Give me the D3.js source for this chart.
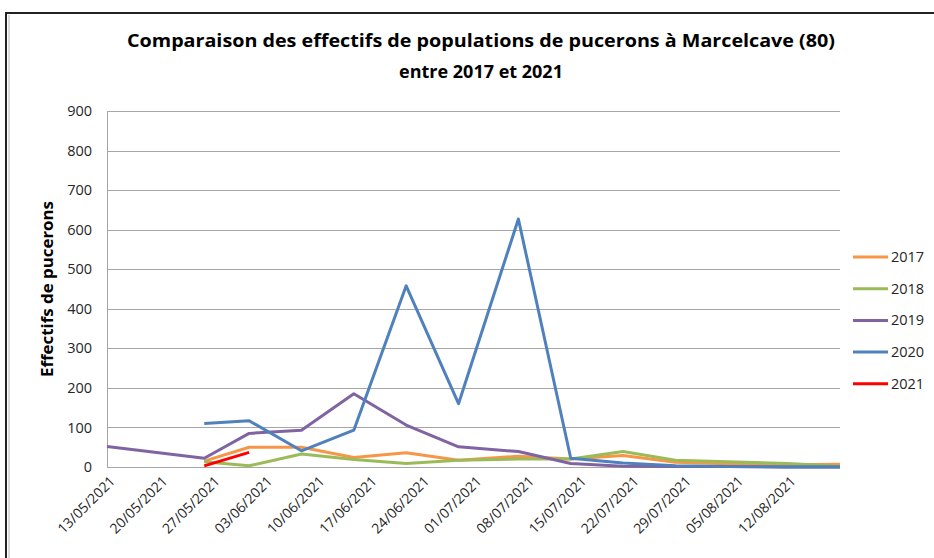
<!DOCTYPE html>
<html>
<head>
<meta charset="utf-8">
<script src="https://cdn.jsdelivr.net/npm/d3@7"></script>
<style>
  body { margin: 0; background: #fff; }
  text { font-family: "Open Sans", "Liberation Sans", sans-serif; }
</style>
</head>
<body>
<div id="chart"></div>
<script>
// observation dates (all years brought back to 2021)
var dates = ["13/05/2021","26/05/2021","01/06/2021","08/06/2021","15/06/2021","22/06/2021","29/06/2021",
             "07/07/2021","14/07/2021","21/07/2021","28/07/2021","04/08/2021","12/08/2021","19/08/2021"];
var tickLabels = ["13/05/2021","20/05/2021","27/05/2021","03/06/2021","10/06/2021","17/06/2021","24/06/2021",
                  "01/07/2021","08/07/2021","15/07/2021","22/07/2021","29/07/2021","05/08/2021","12/08/2021"];
var years = ["2017","2018","2019","2020","2021"];
var v2017 = [null, 15, 50, 50, 24, 36, 17, 27, 20, 29, 12, 8, 6, 7];
var v2018 = [null, 13, 3, 33, 19, 9, 17, 20, 20, 39, 17, 13, 9, 2];
var v2019 = [52, 22, 85, 93, 185, 106, 51, 39, 9, 2, 1, 1, 0, 0];
var v2020 = [null, 110, 117, 41, 93, 458, 160, 627, 22, 10, 3, 1, 0, 0];
var v2021 = [null, 3, 37, null, null, null, null, null, null, null, null, null, null, null];
var yTicks = [0, 100, 200, 300, 400, 500, 600, 700, 800, 900];

var colors = ["#F79646", "#9BBB59", "#8064A2", "#4F81BD", "#FF0000"];
var seriesValues = [v2017, v2018, v2019, v2020, v2021];

var width = 934, height = 558;
var parse = d3.utcParse("%d/%m/%Y");

var svg = d3.select("#chart").append("svg")
  .attr("width", width).attr("height", height);

// frame of the chart object
svg.append("line").attr("x1", 5).attr("x2", width).attr("y1", 13).attr("y2", 13)
  .attr("stroke", "#222").attr("stroke-width", 2);
svg.append("line").attr("x1", 6).attr("x2", 6).attr("y1", 13).attr("y2", height)
  .attr("stroke", "#222").attr("stroke-width", 2);
svg.append("line").attr("x1", 9).attr("x2", 9).attr("y1", 15).attr("y2", height)
  .attr("stroke", "#bbb").attr("stroke-width", 1);

var x = d3.scaleUtc()
  .domain([parse("13/05/2021"), parse("19/08/2021")])
  .range([107, 840]);
var y = d3.scaleLinear().domain([0, 900]).range([467, 111]);

// gridlines
svg.append("g").selectAll("line").data(yTicks).enter().append("line")
  .attr("x1", 107).attr("x2", 840)
  .attr("y1", function(d) { return Math.round(y(d)) + 0.5; })
  .attr("y2", function(d) { return Math.round(y(d)) + 0.5; })
  .attr("stroke", "#a6a6a6").attr("stroke-width", 1);
svg.append("line").attr("x1", 107.5).attr("x2", 107.5).attr("y1", y(900)).attr("y2", y(0))
  .attr("stroke", "#a6a6a6");

// y axis labels
var yAxis = d3.axisLeft(y).tickValues(yTicks).tickSize(0).tickPadding(0);
var gy = svg.append("g").attr("transform", "translate(92,0)").call(yAxis);
gy.select(".domain").remove();
gy.selectAll("text").attr("font-size", "14.5px").attr("fill", "#262626")
  .style("font-family", '"Open Sans", sans-serif');

// x axis labels, rotated
var gx = svg.append("g");
gx.selectAll("text").data(tickLabels).enter().append("text")
  .attr("transform", function(d) {
    return "translate(" + (x(parse(d)) + 9) + ",482) rotate(-45)";
  })
  .attr("text-anchor", "end")
  .attr("font-size", "14px")
  .attr("fill", "#262626")
  .text(function(d) { return d; });

// series
var line = d3.line()
  .defined(function(d) { return d.v !== null; })
  .x(function(d) { return x(d.date); })
  .y(function(d) { return y(d.v); });

seriesValues.forEach(function(vals, i) {
  var pts = vals.map(function(v, j) { return { date: parse(dates[j]), v: v }; });
  svg.append("path").datum(pts)
    .attr("d", line)
    .attr("fill", "none")
    .attr("stroke", colors[i])
    .attr("stroke-width", 3)
    .attr("stroke-linejoin", "round");
});

// title
var title = svg.append("text").attr("x", 481).attr("y", 47)
  .attr("text-anchor", "middle").attr("font-weight", "bold").attr("font-size", "18px")
  .attr("fill", "#000");
title.append("tspan").attr("x", 481).attr("textLength", 708).attr("lengthAdjust", "spacingAndGlyphs")
  .text("Comparaison des effectifs de populations de pucerons à Marcelcave (80)");
title.append("tspan").attr("x", 481).attr("dy", 31)
  .text("entre 2017 et 2021");

// y axis title
svg.append("text")
  .attr("transform", "translate(53,289) rotate(-90)")
  .attr("text-anchor", "middle").attr("font-weight", "bold").attr("font-size", "16px")
  .attr("textLength", 176).attr("lengthAdjust", "spacingAndGlyphs")
  .attr("fill", "#000")
  .text("Effectifs de pucerons");

// legend
var leg = svg.append("g").selectAll("g").data(years).enter().append("g")
  .attr("transform", function(d, i) { return "translate(853," + (257 + i * 31.7) + ")"; });
leg.append("line").attr("x1", 0).attr("x2", 35).attr("y1", 0).attr("y2", 0)
  .attr("stroke", function(d, i) { return colors[i]; }).attr("stroke-width", 3);
leg.append("text").attr("x", 38).attr("y", 5).attr("font-size", "14.5px").attr("fill", "#262626")
  .text(function(d) { return d; });
</script>
</body>
</html>
